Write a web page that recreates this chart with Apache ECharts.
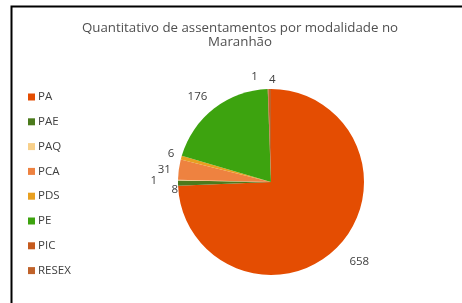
<!DOCTYPE html>
<html>
<head>
<meta charset="utf-8">
<script src="https://cdn.jsdelivr.net/npm/echarts@6/dist/echarts.min.js"></script>
<style>
  html, body { margin: 0; padding: 0; background: #fff; }
  #chart { width: 462px; height: 303px; }
</style>
</head>
<body>
<div id="chart"></div>
<script>
// modalidades e quantidades
var categories = ['PA', 'PAE', 'PAQ', 'PCA', 'PDS', 'PE', 'PIC', 'RESEX'];
var values = [658, 8, 1, 31, 6, 176, 1, 4];
var colors = ['#e44d02', '#4b7a1c', '#f8d08a', '#ee8240', '#e8a020', '#3da30f', '#c55a1e', '#c0622a'];

var chart = echarts.init(document.getElementById('chart'));

var pieData = [];
for (var i = 0; i < categories.length; i++) {
    pieData.push({ name: categories[i], value: values[i], itemStyle: { color: colors[i] } });
}

// pequenos ajustes nos rótulos (como no excel)
var nudge = {
    'PA': [2, 11],
    'PAE': [11, 6],
    'PAQ': [-10, 1],
    'PCA': [3, 1],
    'PDS': [4, -2],
    'PE': [2, -7],
    'PIC': [-5, -6],
    'RESEX': [11, -3]
};

var option = {
    animation: false,
    title: {
        text: 'Quantitativo de assentamentos por modalidade no\nMaranhão',
        left: 235,
        top: 16,
        textAlign: 'center',
        textStyle: {
            fontFamily: 'Open Sans',
            fontSize: 13.3,
            fontWeight: 'normal',
            color: '#505050',
            lineHeight: 14
        }
    },
    legend: {
        orient: 'vertical',
        left: 23,
        top: 86,
        itemWidth: 7,
        itemHeight: 7,
        itemGap: 12.8,
        icon: 'rect',
        textStyle: { fontFamily: 'Open Sans', fontSize: 11.5, color: '#404040', padding: [0, 0, 0, -2] },
        data: categories
    },
    graphic: [{
        type: 'rect',
        shape: { x: 11.5, y: 6.5, width: 600, height: 400 },
        style: { fill: 'none', stroke: '#000', lineWidth: 2 },
        silent: true
    }],
    series: [{
        type: 'pie',
        center: [271, 182],
        radius: 93,
        startAngle: 90,
        clockwise: true,
        avoidLabelOverlap: false,
        label: {
            show: true,
            position: 'outside',
            formatter: '{c}',
            fontFamily: 'Open Sans',
            fontSize: 11.5,
            color: '#404040'
        },
        labelLine: { show: false, length: 6, length2: 0 },
        labelLayout: function (params) {
            var n = nudge[categories[params.dataIndex]];
            if (!n) return {};
            return { dx: n[0], dy: n[1] };
        },
        data: pieData
    }]
};

chart.setOption(option);
</script>
</body>
</html>
